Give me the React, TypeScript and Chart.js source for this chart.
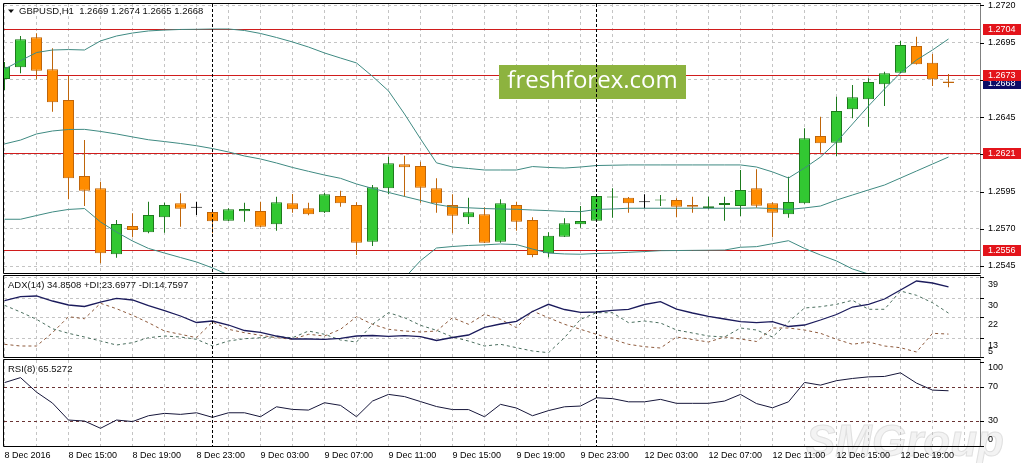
import React, { useEffect, useRef } from 'react';
import { Chart, registerables } from 'chart.js';

Chart.register(...registerables);

// ---------------- data ----------------
const symbolTitle = 'GBPUSD,H1';
const timeLabels = [
  '8 Dec 2016', '8 Dec 15:00', '8 Dec 19:00', '8 Dec 23:00', '9 Dec 03:00',
  '9 Dec 07:00', '9 Dec 11:00', '9 Dec 15:00', '9 Dec 19:00', '9 Dec 23:00',
  '12 Dec 03:00', '12 Dec 07:00', '12 Dec 11:00', '12 Dec 15:00', '12 Dec 19:00',
];
const timeLabelStep = 4;
const separatorBars = [13, 37];

const opens = [
  1.26706, 1.26785, 1.26986, 1.26771, 1.26565, 1.26055, 1.25972, 1.25529, 1.25719, 1.25676,
  1.25777, 1.25871, 1.25842, 1.25813, 1.25754, 1.25817, 1.25819, 1.25730, 1.25871, 1.25838,
  1.25811, 1.25920, 1.25860, 1.25613, 1.25972, 1.26133, 1.26122, 1.25972, 1.25860, 1.25777,
  1.25797, 1.25613, 1.25860, 1.25759, 1.25535, 1.25647, 1.25730, 1.25754, 1.25910, 1.25909,
  1.25878, 1.25890, 1.25893, 1.25860, 1.25840, 1.25860, 1.25853, 1.25972, 1.25871, 1.25797,
  1.25871, 1.26323, 1.26278, 1.26503, 1.26570, 1.26671, 1.26749, 1.26928, 1.26816, 1.26690,
];
const highs = [
  1.26820, 1.26995, 1.27013, 1.26912, 1.26726, 1.26296, 1.26016, 1.25759, 1.25804, 1.25882,
  1.25875, 1.25938, 1.25882, 1.25820, 1.25838, 1.25875, 1.25882, 1.25916, 1.25934, 1.25875,
  1.25940, 1.25956, 1.25878, 1.25994, 1.26184, 1.26191, 1.26151, 1.26039, 1.25932, 1.25909,
  1.25844, 1.25898, 1.25882, 1.25777, 1.25676, 1.25770, 1.25853, 1.25927, 1.25972, 1.25914,
  1.25932, 1.25927, 1.25905, 1.25916, 1.25916, 1.25916, 1.26095, 1.26100, 1.25878, 1.26050,
  1.26375, 1.26453, 1.26587, 1.26666, 1.26711, 1.26755, 1.26962, 1.26990, 1.26874, 1.26740,
];
const lows = [
  1.26632, 1.26745, 1.26704, 1.26487, 1.25898, 1.25853, 1.25468, 1.25506, 1.25643, 1.25670,
  1.25674, 1.25714, 1.25793, 1.25670, 1.25752, 1.25748, 1.25712, 1.25687, 1.25808, 1.25791,
  1.25806, 1.25848, 1.25524, 1.25584, 1.25932, 1.25916, 1.25875, 1.25808, 1.25670, 1.25732,
  1.25605, 1.25607, 1.25687, 1.25508, 1.25508, 1.25645, 1.25707, 1.25752, 1.25774, 1.25808,
  1.25838, 1.25853, 1.25777, 1.25808, 1.25831, 1.25754, 1.25786, 1.25842, 1.25643, 1.25774,
  1.25869, 1.26211, 1.26189, 1.26442, 1.26386, 1.26525, 1.26747, 1.26803, 1.26659, 1.26650,
];
const closes = [
  1.26789, 1.26973, 1.26762, 1.26550, 1.26039, 1.25956, 1.25535, 1.25732, 1.25692, 1.25793,
  1.25860, 1.25835, 1.25842, 1.25750, 1.25831, 1.25833, 1.25714, 1.25878, 1.25831, 1.25797,
  1.25932, 1.25871, 1.25607, 1.25979, 1.26140, 1.26113, 1.25976, 1.25871, 1.25788, 1.25811,
  1.25607, 1.25871, 1.25748, 1.25524, 1.25654, 1.25737, 1.25752, 1.25920, 1.25917, 1.25871,
  1.25878, 1.25895, 1.25848, 1.25848, 1.25851, 1.25873, 1.25961, 1.25855, 1.25808, 1.25880,
  1.26308, 1.26274, 1.26491, 1.26583, 1.26686, 1.26745, 1.26935, 1.26805, 1.26704, 1.26680,
];

const bbUpper = [
  1.26773, 1.26829, 1.26884, 1.26901, 1.26904, 1.26901, 1.26962, 1.26995, 1.27015, 1.27029,
  1.27035, 1.27039, 1.27040, 1.27042, 1.27042, 1.27032, 1.27012, 1.26985, 1.26955, 1.26921,
  1.26881, 1.26847, 1.26814, 1.26724, 1.26626, 1.26471, 1.26304, 1.26143, 1.26115, 1.26105,
  1.26095, 1.26095, 1.26095, 1.26118, 1.26112, 1.26108, 1.26115, 1.26125, 1.26127, 1.26129,
  1.26129, 1.26129, 1.26129, 1.26129, 1.26129, 1.26129, 1.26129, 1.26115, 1.26082, 1.26041,
  1.26108, 1.26182, 1.26283, 1.26404, 1.26525, 1.26639, 1.26747, 1.26834, 1.26901, 1.26975,
];
const bbMiddle = [
  1.26270, 1.26296, 1.26337, 1.26357, 1.26367, 1.26368, 1.26354, 1.26337, 1.26317, 1.26298,
  1.26286, 1.26273, 1.26258, 1.26239, 1.26216, 1.26189, 1.26169, 1.26142, 1.26112, 1.26086,
  1.26061, 1.26039, 1.26001, 1.25971, 1.25944, 1.25917, 1.25891, 1.25863, 1.25846, 1.25841,
  1.25836, 1.25833, 1.25831, 1.25826, 1.25822, 1.25817, 1.25815, 1.25830, 1.25833, 1.25838,
  1.25838, 1.25838, 1.25838, 1.25838, 1.25838, 1.25838, 1.25838, 1.25840, 1.25836, 1.25830,
  1.25840, 1.25853, 1.25893, 1.25927, 1.25961, 1.25994, 1.26041, 1.26088, 1.26135, 1.26182,
];
const bbLower = [
  1.25764, 1.25764, 1.25789, 1.25813, 1.25830, 1.25836, 1.25746, 1.25678, 1.25618, 1.25568,
  1.25537, 1.25507, 1.25477, 1.25437, 1.25390, 1.25346, 1.25326, 1.25299, 1.25269, 1.25251,
  1.25242, 1.25231, 1.25188, 1.25242, 1.25269, 1.25369, 1.25486, 1.25571, 1.25581, 1.25588,
  1.25592, 1.25598, 1.25594, 1.25564, 1.25537, 1.25531, 1.25529, 1.25534, 1.25537, 1.25542,
  1.25547, 1.25553, 1.25554, 1.25555, 1.25556, 1.25557, 1.25576, 1.25580, 1.25600, 1.25620,
  1.25568, 1.25524, 1.25484, 1.25430, 1.25396, 1.25349, 1.25336, 1.25343, 1.25369, 1.25400,
];

const levels = [1.2704, 1.2673, 1.2621, 1.2556];
const priceTicks = [1.2720, 1.2695, 1.2670, 1.2645, 1.2620, 1.2595, 1.2570, 1.2545];

const adxValues = [
  29.06, 30.68, 30.98, 28.85, 27.15, 26.51, 28.42, 30.00, 29.28, 26.85,
  24.72, 22.46, 19.69, 20.33, 18.63, 16.29, 15.52, 13.94, 12.67, 12.67,
  12.54, 12.96, 13.94, 14.16, 13.82, 14.07, 13.65, 12.03, 13.30, 14.37,
  17.65, 19.05, 20.20, 24.38, 27.44, 25.23, 24.04, 24.17, 24.89, 25.32,
  27.36, 28.55, 25.44, 23.74, 22.33, 21.18, 20.03, 19.61, 20.03, 17.99,
  18.63, 20.76, 23.10, 26.29, 27.44, 29.70, 33.53, 37.37, 36.52, 34.8508,
];
const plusDI = [
  27.02, 24.17, 21.06, 17.05, 15.09, 13.52, 11.81, 10.11, 11.09, 13.22,
  13.94, 13.52, 12.54, 9.68, 11.81, 12.79, 13.22, 13.65, 13.22, 16.07,
  14.67, 12.24, 11.39, 18.93, 23.87, 21.74, 18.50, 16.37, 13.52, 11.81,
  9.68, 10.41, 8.96, 7.56, 6.83, 13.22, 21.06, 23.87, 23.87, 19.61,
  20.33, 19.48, 16.50, 15.22, 13.94, 13.52, 17.35, 16.50, 13.52, 19.91,
  25.87, 26.42, 27.44, 29.15, 25.32, 25.32, 33.11, 31.28, 28.13, 23.6977,
];
const minusDI = [
  10.41, 9.68, 9.68, 15.35, 22.16, 21.31, 27.87, 25.57, 22.76, 19.61,
  16.07, 14.67, 13.22, 19.91, 16.80, 15.35, 14.24, 13.22, 12.54, 14.67,
  13.94, 16.80, 22.16, 18.93, 16.80, 16.07, 15.65, 16.07, 21.74, 18.93,
  23.19, 21.06, 17.48, 24.59, 21.74, 18.93, 16.80, 14.67, 12.54, 10.41,
  9.39, 8.83, 13.52, 12.45, 11.39, 13.52, 12.67, 11.60, 17.35, 17.35,
  16.50, 15.09, 12.54, 10.41, 11.39, 9.68, 8.96, 7.13, 15.09, 14.7597,
];
const adxTicks = [39, 30, 22, 13, 5];

const rsiValues = [
  75.2, 81.1, 63.9, 50.9, 30.8, 29.6, 21.0, 30.8, 29.0, 35.9,
  38.7, 37.5, 39.4, 34.0, 39.4, 39.4, 34.7, 46.5, 43.4, 42.6,
  51.3, 48.2, 34.7, 53.3, 61.2, 58.6, 52.7, 46.8, 43.2, 43.2,
  34.7, 49.4, 45.0, 35.9, 42.0, 46.5, 47.4, 57.2, 56.2, 52.4,
  52.4, 55.3, 50.6, 50.6, 50.6, 53.3, 61.2, 50.3, 45.3, 52.4,
  75.4, 72.2, 77.5, 80.1, 82.0, 82.5, 86.8, 74.6, 66.3, 65.5272,
];
const rsiTicks = [100, 70, 30, 0];
const rsiLevels = [70, 30];

// ---------------- styling / geometry ----------------
const FONT = '"Liberation Sans", Arial, sans-serif';
const W = 1023;
const AXIS_W = 43;
const X_MIN = -0.03125;
const X_MAX = 60.96875;
const GRID = '#c4c4c4';
const BULL_FILL = '#32c832';
const BULL_LINE = '#1d7a1d';
const BEAR_FILL = '#ff8c00';
const BEAR_LINE = '#bf650a';
const DOJI_LINE = '#000000';
const BAND = '#3f8a82';
const LEVEL = '#d01c1c';
const LEVEL_BOX = '#e3141b';
const LAST_BOX = '#0c0c66';

const last = opens.length - 1;
const bars = opens.map((_, i) => i);
const dir = bars.map((i) => (closes[i] > opens[i] ? 1 : closes[i] < opens[i] ? -1 : 0));
const lineColors = dir.map((d) => (d > 0 ? BULL_LINE : d < 0 ? BEAR_LINE : DOJI_LINE));
const fillColors = dir.map((d) => (d > 0 ? BULL_FILL : d < 0 ? BEAR_FILL : DOJI_LINE));

function xScale(showLabels: boolean): any {
  return {
    type: 'linear',
    min: X_MIN,
    max: X_MAX,
    offset: false,
    afterBuildTicks: (s: any) => {
      s.ticks = Array.from({ length: 31 }, (_, k) => ({ value: k * 2 }));
    },
    afterFit: (s: any) => {
      s.height = showLabels ? 17 : 0;
    },
    grid: { display: true, color: GRID, lineWidth: 1, drawTicks: false, offset: false },
    border: { display: false, dash: [3, 3] },
    ticks: showLabels
      ? {
          display: true,
          autoSkip: false,
          maxRotation: 0,
          minRotation: 0,
          align: 'start',
          padding: 4,
          color: '#000',
          font: { family: FONT, size: 9 },
          callback: (v: number) => {
            const k = v / timeLabelStep;
            return Number.isInteger(k) && k < timeLabels.length ? timeLabels[k] : '';
          },
        }
      : { display: false },
  };
}

function yScale(min: number, max: number, gridValues: number[]): any {
  return {
    type: 'linear',
    position: 'right',
    min,
    max,
    afterBuildTicks: (s: any) => {
      s.ticks = gridValues.map((v) => ({ value: v }));
    },
    afterFit: (s: any) => {
      s.width = AXIS_W;
    },
    grid: { display: gridValues.length > 0, color: GRID, lineWidth: 1, drawTicks: false },
    border: { display: false, dash: [3, 3] },
    ticks: { display: false },
  };
}

function drawSeparators(chart: any) {
  const { ctx, chartArea: ca, scales } = chart;
  ctx.save();
  ctx.strokeStyle = '#000';
  ctx.lineWidth = 1;
  ctx.setLineDash([3, 2]);
  separatorBars.forEach((b) => {
    const px = Math.floor(scales.x.getPixelForValue(b)) + 0.5;
    ctx.beginPath();
    ctx.moveTo(px, ca.top);
    ctx.lineTo(px, ca.bottom);
    ctx.stroke();
  });
  ctx.restore();
}

function drawFrame(chart: any) {
  const { ctx, chartArea: ca } = chart;
  const l = ca.left - 0.5;
  const r = ca.right + 0.5;
  const t = ca.top - 0.5;
  const b = ca.bottom + 0.5;
  ctx.save();
  ctx.strokeStyle = '#000';
  ctx.lineWidth = 1;
  ctx.beginPath();
  ctx.moveTo(l, t);
  ctx.lineTo(r, t);
  ctx.moveTo(l, b);
  ctx.lineTo(r, b);
  ctx.moveTo(l, t);
  ctx.lineTo(l, b);
  ctx.stroke();
  ctx.setLineDash([1, 1]);
  ctx.beginPath();
  ctx.moveTo(r, t);
  ctx.lineTo(r, b);
  ctx.stroke();
  ctx.restore();
}

function drawAxisLabels(chart: any, values: number[], fmt: (v: number) => string, offset: number, padTop: number, padBottom: number) {
  const { ctx, chartArea: ca, scales } = chart;
  ctx.save();
  ctx.fillStyle = '#000';
  ctx.strokeStyle = '#000';
  ctx.lineWidth = 1;
  ctx.font = `9px ${FONT}`;
  ctx.textAlign = 'left';
  ctx.textBaseline = 'middle';
  values.forEach((v) => {
    const py = scales.y.getPixelForValue(v);
    const ty = Math.round(Math.min(Math.max(py, ca.top), ca.bottom)) + 0.5;
    ctx.beginPath();
    ctx.moveTo(ca.right, ty);
    ctx.lineTo(ca.right + 4, ty);
    ctx.stroke();
    const ly = Math.min(Math.max(py + offset, ca.top + padTop), ca.bottom - padBottom);
    ctx.fillText(fmt(v), ca.right + 8, ly);
  });
  ctx.restore();
}

function drawPriceBox(chart: any, v: number, bg: string) {
  const { ctx, chartArea: ca, scales } = chart;
  const py = scales.y.getPixelForValue(v);
  ctx.save();
  ctx.fillStyle = bg;
  ctx.fillRect(ca.right + 3, Math.round(py) - 5, 38, 11);
  ctx.fillStyle = '#fff';
  ctx.font = `9px ${FONT}`;
  ctx.textAlign = 'left';
  ctx.textBaseline = 'middle';
  ctx.fillText(v.toFixed(4), ca.right + 8, Math.round(py) + 0.5);
  ctx.restore();
}

function drawTitle(chart: any, text: string, x: number, dy: number) {
  const { ctx, chartArea: ca } = chart;
  ctx.save();
  ctx.fillStyle = '#111';
  ctx.font = `9.5px ${FONT}`;
  ctx.textAlign = 'left';
  ctx.textBaseline = 'middle';
  ctx.fillText(text, x, ca.top + dy);
  ctx.restore();
}

const mainPlugin = {
  id: 'mainDecor',
  beforeDatasetsDraw(chart: any) {
    const { ctx, chartArea: ca, scales } = chart;
    ctx.save();
    ctx.strokeStyle = LEVEL;
    ctx.lineWidth = 1;
    levels.forEach((v) => {
      const y = Math.round(scales.y.getPixelForValue(v)) + 0.5;
      ctx.beginPath();
      ctx.moveTo(ca.left, y);
      ctx.lineTo(ca.right, y);
      ctx.stroke();
    });
    ctx.restore();
  },
  afterDraw(chart: any) {
    const { ctx } = chart;
    // freshforex watermark
    ctx.save();
    ctx.fillStyle = '#8db33f';
    ctx.fillRect(499, 65, 187, 34);
    ctx.fillStyle = '#ffffff';
    ctx.font = '24px "Open Sans", "DejaVu Sans", sans-serif';
    ctx.textAlign = 'center';
    ctx.textBaseline = 'middle';
    ctx.fillText('freshforex.com', 592.5, 81);
    ctx.restore();

    drawSeparators(chart);
    drawFrame(chart);
    drawAxisLabels(chart, priceTicks, (v) => v.toFixed(4), 0, 1.5, 3);
    drawPriceBox(chart, closes[last], LAST_BOX);
    levels.forEach((v) => drawPriceBox(chart, v, LEVEL_BOX));

    // title with triangle marker
    ctx.save();
    ctx.fillStyle = '#111';
    ctx.beginPath();
    ctx.moveTo(8, 9.5);
    ctx.lineTo(14, 9.5);
    ctx.lineTo(11, 13);
    ctx.closePath();
    ctx.fill();
    ctx.restore();
    const t = `${symbolTitle}  ${opens[last].toFixed(4)} ${highs[last].toFixed(4)} ${lows[last].toFixed(4)} ${closes[last].toFixed(4)}`;
    drawTitle(chart, t, 19, 7.5);
  },
};

const adxPlugin = {
  id: 'adxDecor',
  afterDraw(chart: any) {
    drawSeparators(chart);
    drawFrame(chart);
    drawAxisLabels(chart, adxTicks, (v) => String(v), 7, 5, 5);
    drawTitle(chart, `ADX(14) ${adxValues[last].toFixed(4)} +DI:${plusDI[last].toFixed(4)} -DI:${minusDI[last].toFixed(4)}`, 8, 9);
  },
};

const rsiPlugin = {
  id: 'rsiDecor',
  beforeDraw(chart: any) {
    const { ctx } = chart;
    ctx.save();
    ctx.font = `italic bold 44px ${FONT}`;
    ctx.textAlign = 'left';
    ctx.textBaseline = 'alphabetic';
    ctx.fillStyle = '#f3f3f3';
    ctx.strokeStyle = '#e0e0e0';
    ctx.lineWidth = 1;
    ctx.fillText('SMGroup', 806, 98);
    ctx.strokeText('SMGroup', 806, 98);
    ctx.restore();
  },
  beforeDatasetsDraw(chart: any) {
    const { ctx, chartArea: ca, scales } = chart;
    ctx.save();
    ctx.strokeStyle = '#6a3434';
    ctx.lineWidth = 1;
    ctx.setLineDash([3, 3]);
    rsiLevels.forEach((v) => {
      const y = Math.round(scales.y.getPixelForValue(v)) + 0.5;
      ctx.beginPath();
      ctx.moveTo(ca.left, y);
      ctx.lineTo(ca.right, y);
      ctx.stroke();
    });
    ctx.restore();
  },
  afterDraw(chart: any) {
    drawSeparators(chart);
    drawFrame(chart);
    drawAxisLabels(chart, rsiTicks, (v) => String(v), 0, 7.5, 6);
    drawTitle(chart, `RSI(8) ${rsiValues[last].toFixed(4)}`, 8, 9);
  },
};

const common: any = {
  responsive: false,
  animation: false,
  devicePixelRatio: 1,
  events: [],
  plugins: { legend: { display: false }, tooltip: { enabled: false } },
};

function lineDs(values: number[], color: string, dash: number[] = [], width = 1, order = 0): any {
  return {
    type: 'line',
    data: bars.map((i) => ({ x: i, y: values[i] })),
    borderColor: color,
    borderWidth: width,
    borderDash: dash,
    pointRadius: 0,
    tension: 0,
    fill: false,
    order,
  };
}

export default function App() {
  const mainRef = useRef<HTMLCanvasElement>(null);
  const adxRef = useRef<HTMLCanvasElement>(null);
  const rsiRef = useRef<HTMLCanvasElement>(null);

  useEffect(() => {
    const charts: Chart[] = [];

    charts.push(
      new Chart(mainRef.current as HTMLCanvasElement, {
        type: 'bar',
        data: {
          datasets: [
            lineDs(bbUpper, BAND, [], 1, 0),
            lineDs(bbMiddle, BAND, [], 1, 0),
            lineDs(bbLower, BAND, [], 1, 0),
            {
              type: 'bar',
              data: bars.map((i) => ({ x: i, y: [Math.min(opens[i], closes[i]), Math.max(opens[i], closes[i])] })),
              backgroundColor: fillColors,
              borderColor: lineColors,
              borderWidth: 1,
              borderSkipped: false,
              grouped: false,
              barPercentage: 1,
              categoryPercentage: 1,
              maxBarThickness: 11,
              minBarLength: 1,
              inflateAmount: 0,
              order: 1,
            },
            {
              type: 'bar',
              data: bars.map((i) => ({ x: i, y: [lows[i], highs[i]] })),
              backgroundColor: lineColors,
              borderWidth: 0,
              borderSkipped: false,
              grouped: false,
              barPercentage: 1,
              categoryPercentage: 1,
              maxBarThickness: 1,
              inflateAmount: 0,
              order: 2,
            },
          ] as any,
        },
        options: {
          ...common,
          layout: { padding: { left: 4, top: 4, right: 0, bottom: 3 } },
          scales: { x: xScale(false), y: yScale(1.2721, 1.25403, priceTicks) as any },
        },
        plugins: [mainPlugin],
      } as any)
    );

    charts.push(
      new Chart(adxRef.current as HTMLCanvasElement, {
        type: 'line',
        data: {
          datasets: [
            lineDs(adxValues, '#1b1b5c', [], 1.3, 0),
            lineDs(plusDI, '#4a6e5e', [3, 3], 1, 1),
            lineDs(minusDI, '#8e5a3c', [3, 3], 1, 2),
          ],
        },
        options: {
          ...common,
          layout: { padding: { left: 4, top: 2, right: 0, bottom: 3 } },
          scales: { x: xScale(false), y: yScale(5, 39.5, adxTicks) },
        },
        plugins: [adxPlugin],
      } as any)
    );

    charts.push(
      new Chart(rsiRef.current as HTMLCanvasElement, {
        type: 'line',
        data: { datasets: [lineDs(rsiValues, '#16163a', [], 1, 0)] },
        options: {
          ...common,
          layout: { padding: { left: 4, top: 2, right: 0, bottom: 0 } },
          scales: { x: xScale(true), y: yScale(0, 102, []) },
        },
        plugins: [rsiPlugin],
      } as any)
    );

    return () => charts.forEach((c) => c.destroy());
  }, []);

  return (
    <div style={{ position: 'absolute', left: 0, top: 0, width: W, height: 463, background: '#fff', overflow: 'hidden' }}>
      <canvas ref={mainRef} width={W} height={276} style={{ position: 'absolute', left: 0, top: 0 }} />
      <canvas ref={adxRef} width={W} height={86} style={{ position: 'absolute', left: 0, top: 274 }} />
      <canvas ref={rsiRef} width={W} height={105} style={{ position: 'absolute', left: 0, top: 358 }} />
    </div>
  );
}
